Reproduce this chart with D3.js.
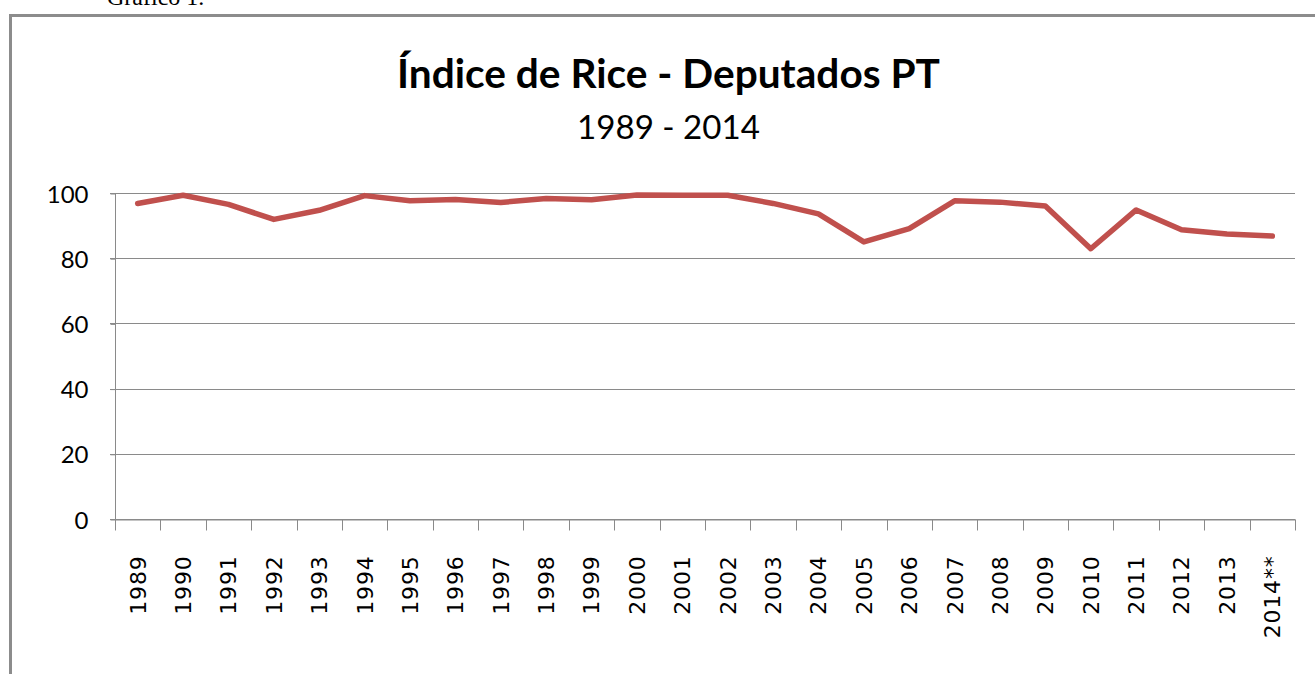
<!DOCTYPE html>
<html>
<head>
<meta charset="utf-8">
<script src="https://cdn.jsdelivr.net/npm/d3@7"></script>
<style>
  html, body { margin: 0; padding: 0; background: #fff; overflow: hidden; }
  svg { display: block; }
</style>
</head>
<body>
<svg id="chart" width="1315" height="674"></svg>
<script>
// ---- data ----
const years = ["1989","1990","1991","1992","1993","1994","1995","1996","1997","1998","1999","2000","2001","2002","2003","2004","2005","2006","2007","2008","2009","2010","2011","2012","2013","2014**"];
const riceIndex = [96.8, 99.3, 96.5, 91.9, 94.7, 99.2, 97.6, 98.0, 97.1, 98.3, 97.9, 99.4, 99.3, 99.3, 96.8, 93.6, 85.0, 89.1, 97.6, 97.2, 96.0, 82.9, 94.8, 88.7, 87.4, 86.8];
const yTicks = [0, 20, 40, 60, 80, 100];
const titleText = "Índice de Rice - Deputados PT";
const subtitleText = "1989 - 2014";
const captionText = "Gráfico 1.";

const svg = d3.select("#chart");

// caption above the frame (cut off at top, as in the reference)
svg.append("text")
  .attr("x", 107).attr("y", 5)
  .attr("font-family", "'Liberation Serif', 'Times New Roman', serif")
  .attr("font-size", 24)
  .attr("fill", "#000")
  .text(captionText);

// chart frame
svg.append("rect")
  .attr("x", 10.5).attr("y", 15.5)
  .attr("width", 1330).attr("height", 700)
  .attr("fill", "#fff")
  .attr("stroke", "#8c8c8c")
  .attr("stroke-width", 3);

// scales
const x = d3.scaleBand().domain(years).range([115, 1295]).padding(0);
const y = d3.scaleLinear().domain([0, 100]).range([519, 193]);

// gridlines
svg.append("g")
  .selectAll("line")
  .data(yTicks)
  .join("line")
  .attr("x1", 110).attr("x2", 1295)
  .attr("y1", d => Math.round(y(d)) + 0.5)
  .attr("y2", d => Math.round(y(d)) + 0.5)
  .attr("stroke", "#8a8a8a")
  .attr("stroke-width", 1);

// y axis
const yAxis = svg.append("g")
  .attr("transform", "translate(115.5,0.5)")
  .call(d3.axisLeft(y).tickValues(yTicks).tickSize(5).tickPadding(22));
yAxis.select(".domain").attr("stroke", "#8a8a8a").attr("d", `M0,${y(100)}V${y(0)}`);
yAxis.selectAll(".tick line").attr("stroke", "#8a8a8a");
yAxis.selectAll(".tick text")
  .attr("font-family", "Lato, 'Open Sans', sans-serif")
  .attr("font-size", 24)
  .attr("fill", "#000")
  .attr("dy", "0.36em");

// x axis
const xAxis = svg.append("g")
  .attr("transform", `translate(0,${Math.round(y(0)) + 0.5})`)
  .call(d3.axisBottom(x).tickSize(0).tickPadding(0));
xAxis.select(".domain").attr("stroke", "#8a8a8a");
xAxis.selectAll(".tick line").remove();
// boundary tick marks
xAxis.append("g")
  .selectAll("line")
  .data(years.map(d => x(d)).concat([x(years[years.length - 1]) + x.bandwidth()]))
  .join("line")
  .attr("x1", d => Math.round(d) + 0.5).attr("x2", d => Math.round(d) + 0.5)
  .attr("y1", 0).attr("y2", 11)
  .attr("stroke", "#8a8a8a");
xAxis.selectAll(".tick text")
  .attr("font-family", "'DejaVu Sans', sans-serif")
  .attr("font-size", 22)
  .attr("letter-spacing", "0.8px")
  .attr("fill", "#000")
  .attr("text-anchor", "end")
  .attr("transform", "translate(0,36) rotate(-90)")
  .attr("x", 0).attr("y", 0)
  .attr("dy", "0.36em");

// line
const line = d3.line()
  .x((d, i) => x(years[i]) + x.bandwidth() / 2)
  .y(d => y(d));
svg.append("path")
  .datum(riceIndex)
  .attr("d", line)
  .attr("fill", "none")
  .attr("stroke", "#C0504D")
  .attr("stroke-width", 5.5)
  .attr("stroke-linejoin", "round")
  .attr("stroke-linecap", "round");

// titles (fit to reference widths)
function fitText(sel, targetWidth) {
  const node = sel.node();
  const fs = parseFloat(sel.attr("font-size"));
  const w = node.getComputedTextLength();
  sel.attr("font-size", fs * targetWidth / w);
}
const title = svg.append("text")
  .attr("x", 668.5).attr("y", 88)
  .attr("text-anchor", "middle")
  .attr("font-family", "Lato, 'Open Sans', sans-serif")
  .attr("font-weight", "bold")
  .attr("font-size", 36)
  .attr("fill", "#000")
  .text(titleText);
fitText(title, 543);

const subtitle = svg.append("text")
  .attr("x", 668.5).attr("y", 139)
  .attr("text-anchor", "middle")
  .attr("font-family", "Lato, 'Open Sans', sans-serif")
  .attr("font-size", 28)
  .attr("fill", "#000")
  .text(subtitleText);
fitText(subtitle, 183);
</script>
</body>
</html>
